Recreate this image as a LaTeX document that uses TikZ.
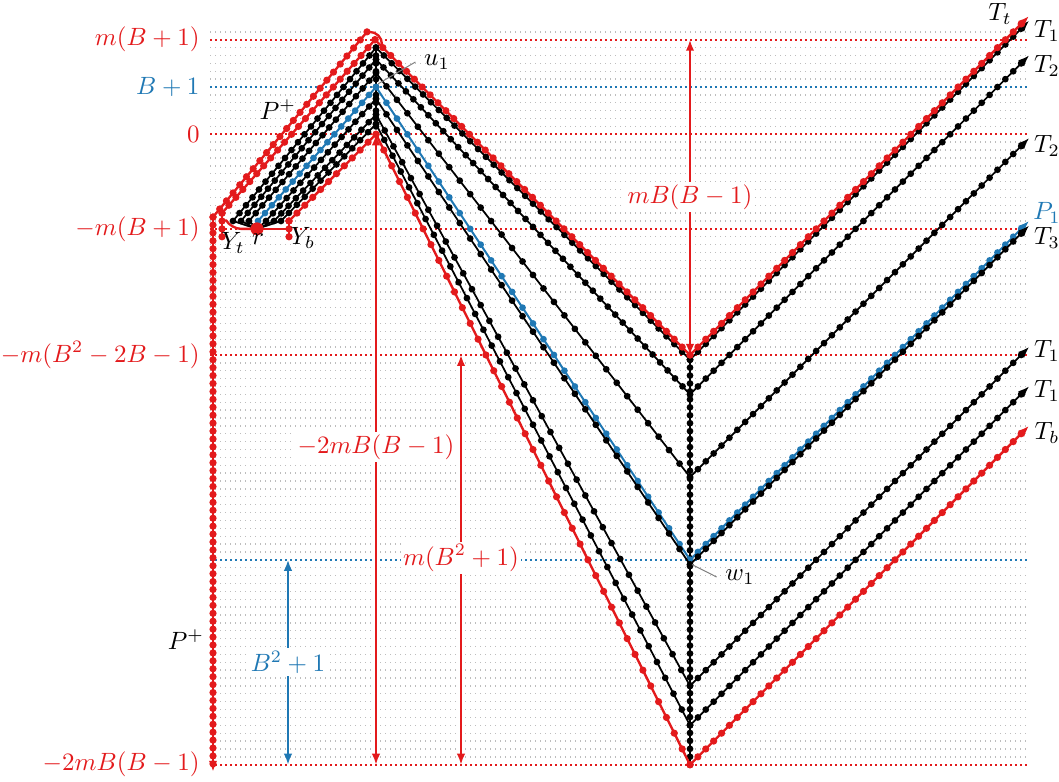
\documentclass[tikz,border=0pt]{standalone}
\usetikzlibrary{arrows.meta}
\definecolor{cR}{HTML}{E31A1C}
\definecolor{cB}{HTML}{1F78B4}
\definecolor{cG}{HTML}{BDBDBD}
\pgfmathdeclarefunction{L}{1}{\pgfmathparse{134.3-7.88*(#1)}}
\newcommand\dseg[8]{%
  \draw[#1] (#4,{L(#5)}) -- (#6,{L(#7)});
  \foreach \i in {0,...,#8}{\pgfmathsetmacro\tt{\i/#8}\fill[#2] ({#4+(#6-#4)*\tt},{L(#5)+(L(#7)-L(#5))*\tt}) circle[radius=#3];}%
}
\newcommand\dsegA[8]{%
  \draw[#1,-{Latex[length=4.4pt,width=3.4pt]}] (#4,{L(#5)}) -- (#6,{L(#7)});
  \pgfmathtruncatemacro\nn{#8-1}%
  \foreach \i in {0,...,\nn}{\pgfmathsetmacro\tt{\i/#8}\fill[#2] ({#4+(#6-#4)*\tt},{L(#5)+(L(#7)-L(#5))*\tt}) circle[radius=#3];}%
}
% style, color, radius, xs, ls, apex, v, nasc, ndesc
\newcommand\gpath[9]{%
  \dseg{#1}{#2}{#3}{#4}{#5}{376}{#6}{#8}
  \dseg{#1}{#2}{#3}{376}{#6}{690}{#7}{#9}
  \dsegA{#1}{#2}{#3}{690}{#7}{1029}{#7+43}{43}
}
\begin{document}
\begin{tikzpicture}[x=0.4pt,y=-0.4pt,
  griddot/.style={cG,line width=0.55pt,dash pattern=on 0.55pt off 1.45pt},
  rdotl/.style={cR,line width=0.65pt,dash pattern=on 0.65pt off 1.35pt},
  bdotl/.style={cB,line width=0.65pt,dash pattern=on 0.65pt off 1.35pt},
  rl/.style={cR,line width=0.95pt,line cap=round},
  bl/.style={black,line width=0.7pt,line cap=round},
  bul/.style={cB,line width=0.8pt,line cap=round},
  rarr/.style={cR,line width=0.8pt,{Latex[length=4.4pt,width=3.4pt]}-{Latex[length=4.4pt,width=3.4pt]}},
  barr/.style={cB,line width=0.8pt,{Latex[length=4.4pt,width=3.4pt]}-{Latex[length=4.4pt,width=3.4pt]}},
  lbl/.style={inner sep=1pt,fill=white},
  ptr/.style={gray,line width=0.4pt}]
\useasboundingbox (0,0) rectangle (1059,781);
% grid
\foreach \k in {-80,...,13}{\draw[griddot] (210,{L(\k)}) -- (1030,{L(\k)});}
\foreach \k in {12,0,-12,-28,-80}{\draw[rdotl] (210,{L(\k)}) -- (1030,{L(\k)});}
\foreach \k in {6,-54}{\draw[bdotl] (210,{L(\k)}) -- (1030,{L(\k)});}
% r connections
\coordinate (r) at (257,{L(-12)});
\foreach \xs in {233,241,249,266,274,281}{\draw[bl] (r) -- (\xs,{L(-11)});}
\draw[bul] (r) -- (258,{L(-11)});
\draw[rl,rounded corners=4pt] (r) -- (231,{L(-12)}) -- (226,{L(-10.9)});
\draw[rl] (r) -- (289,{L(-12)});
% spines
\dseg{bl}{black}{1.35pt}{376}{11}{376}{1}{10}
\dseg{bl}{black}{1.35pt}{690}{-28.6}{690}{-80}{51}
% black / blue paths
\gpath{bl}{black}{1.35pt}{233}{-11}{11}{-28.6}{22}{40}
\gpath{bl}{black}{1.35pt}{241}{-11}{9.5}{-33}{20}{42}
\gpath{bl}{black}{1.35pt}{249}{-11}{7.8}{-43.5}{19}{30}
\gpath{bul}{cB}{1.35pt}{258}{-11}{6}{-54}{17}{30}
\gpath{bl}{black}{1.35pt}{266}{-11}{4.5}{-54.6}{16}{30}
\gpath{bl}{black}{1.35pt}{274}{-11}{2.5}{-70}{14}{36}
\gpath{bl}{black}{1.35pt}{281}{-11}{1.3}{-75}{12}{38}
% T_t red
\dseg{rl}{cR}{1.45pt}{222}{-13}{222}{-10}{3}
\dseg{rl}{cR}{1.45pt}{222}{-10}{375}{12}{22}
\dseg{rl}{cR}{1.45pt}{375}{12}{690}{-28}{40}
\dsegA{rl}{cR}{1.45pt}{690}{-28}{1029}{15}{43}
% T_b red
\dseg{rl}{cR}{1.45pt}{289}{-13}{289}{-11}{2}
\dseg{rl}{cR}{1.45pt}{289}{-11}{376}{0}{11}
\dseg{rl}{cR}{1.45pt}{376}{0}{690}{-80}{40}
\dsegA{rl}{cR}{1.45pt}{690}{-80}{1029}{-37}{43}
% P+ red
\draw[rl,rounded corners=5pt] (382,{L(11)}) -- (382,{L(13)}) -- (367,{L(13)});
\dseg{rl}{cR}{1.45pt}{367}{13}{213}{-10.5}{23}
\dsegA{rl}{cR}{1.45pt}{213}{-10.5}{213}{-80.9}{70}
\fill[cR] (r) circle[radius=2.6pt];
% measure arrows
\draw[rarr] (376,{L(0)}) -- (376,{L(-80)});
\node[lbl,text=cR] (a1) at (376,447) {$-2mB(B-1)$};
\draw[rarr] (461,{L(-28)}) -- (461,{L(-80)});
\node[lbl,text=cR] (a2) at (461,558) {$m(B^2+1)$};
\draw[rarr] (690,{L(12)}) -- (690,{L(-28)});
\node[lbl,text=cR] (a3) at (690,197) {$mB(B-1)$};
\draw[barr] (288,{L(-54)}) -- (288,{L(-80)});
\node[lbl,text=cB] (a4) at (288,662) {$B^2+1$};
% left labels
\begin{scope}[every node/.style={anchor=east,inner sep=0pt}]
\node[text=cR] (l1) at (200,{L(12)}) {$m(B+1)$};
\node[text=cB] (l2) at (200,{L(6)}) {$B+1$};
\node[text=cR] (l3) at (200,{L(0)}) {$0$};
\node[text=cR] (l4) at (200,{L(-12)}) {$-m(B+1)$};
\node[text=cR] (l5) at (200,{L(-28)}) {$-m(B^2-2B-1)$};
\node[text=cR] (l6) at (200,{L(-80)}) {$-2mB(B-1)$};
\end{scope}
% misc labels
\node (pp1) at (278,110) {$P^+$};
\node (pp2) at (186,640) {$P^+$};
\node (yt) at (233,243) {$Y_t$};
\node (rr) at (258,239) {$r$};
\node (yb) at (303,238) {$Y_b$};
\node (u1) at (437,62) {$u_1$};
\draw[ptr] (u1.west) -- (378,{L(6.4)});
\node (w1) at (740,577) {$w_1$};
\draw[ptr] (w1.west) -- (692,{L(-54.6)});
% right labels
\node (tt) at (1000,14) {$T_t$};
\node (t1a) at (1047,31) {$T_1$};
\node (t2a) at (1047,66) {$T_2$};
\node (t2b) at (1047,146) {$T_2$};
\node[text=cB] (p1) at (1047,213) {$P_1$};
\node (t3) at (1047,238) {$T_3$};
\node (t1b) at (1047,351) {$T_1$};
\node (t1c) at (1047,391) {$T_1$};
\node (tb) at (1047,433) {$T_b$};
\end{tikzpicture}
\end{document}
